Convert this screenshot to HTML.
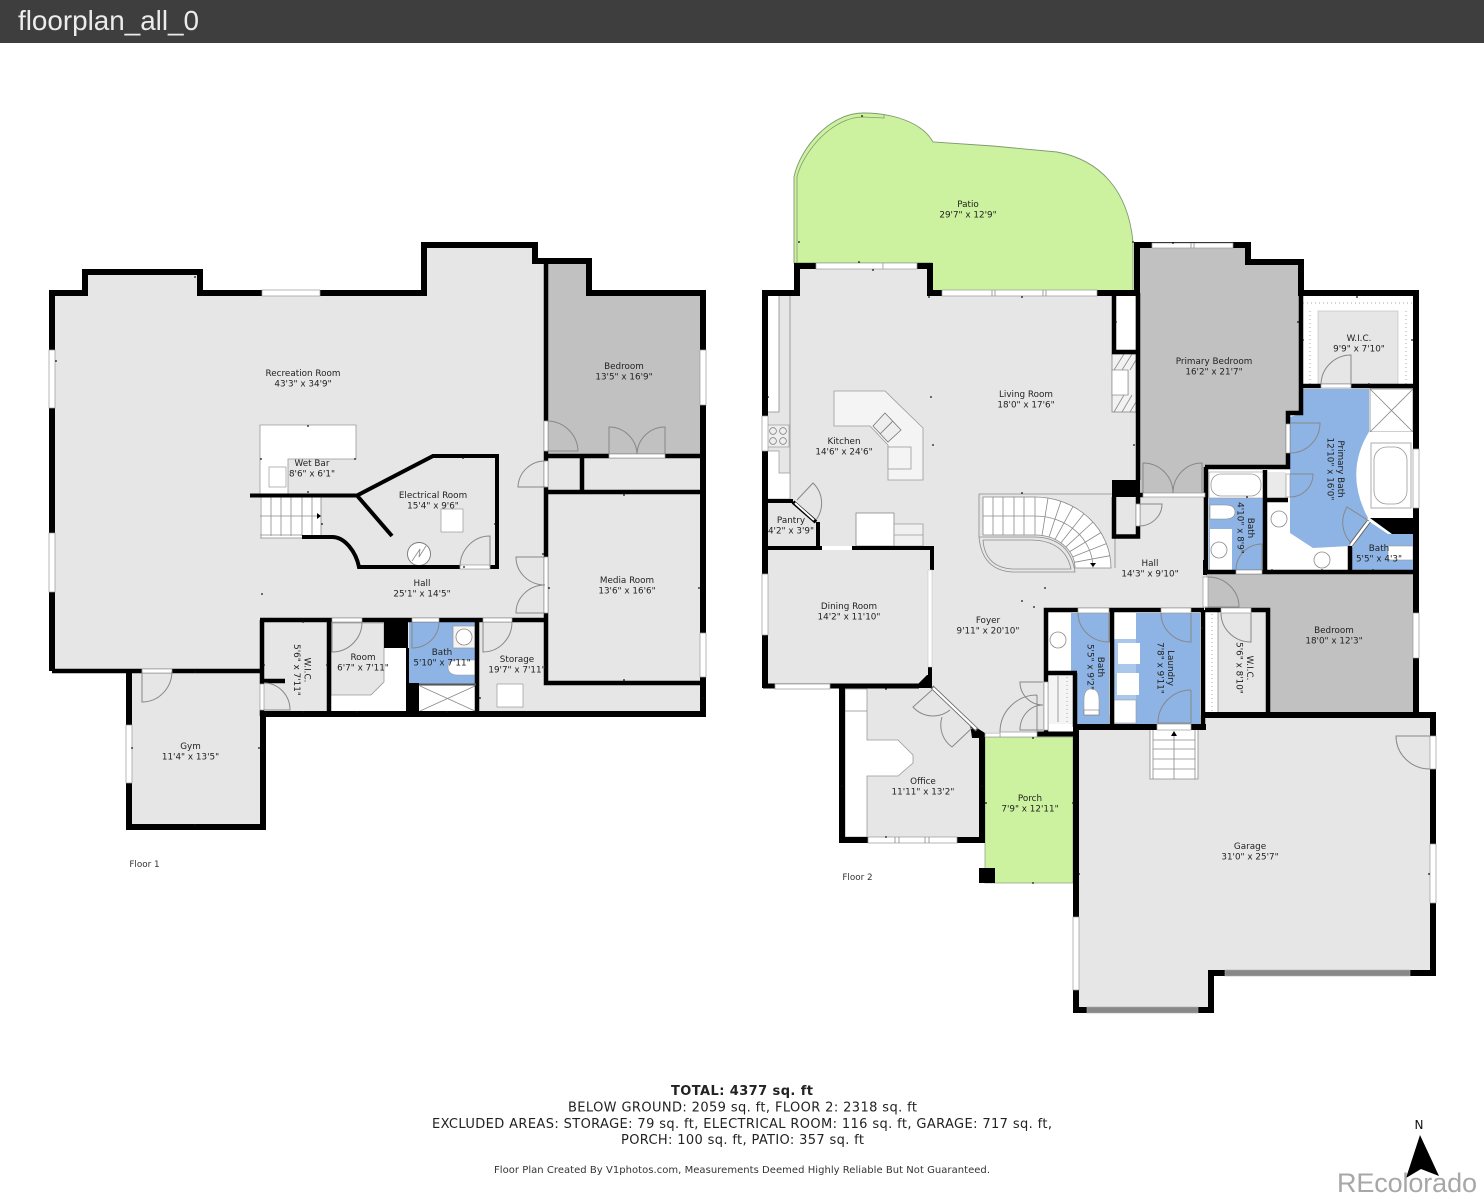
<!DOCTYPE html>
<html lang="en"><head><meta charset="utf-8"><title>floorplan_all_0</title>
<style>
html,body{margin:0;padding:0;background:#fff}
svg{display:block}
.wl{fill:none;stroke:#000;stroke-linejoin:miter}
.d{fill:none;stroke:#888;stroke-width:1}
.o{fill:#fff;stroke:#999;stroke-width:.7}
.l{fill:none;stroke:#8a8a8a;stroke-width:.8}
.sh{fill:none;stroke:#aaa;stroke-width:1;stroke-dasharray:1 3}
.t{font-family:"DejaVu Sans","Liberation Sans",sans-serif;font-size:8.8px;fill:#222;text-anchor:middle}
.b{font-family:"DejaVu Sans","Liberation Sans",sans-serif;font-size:13px;fill:#222;text-anchor:middle}
</style></head><body>
<svg width="1484" height="1200" viewBox="0 0 1484 1200" xmlns="http://www.w3.org/2000/svg">
<rect width="1484" height="1200" fill="#fff"/>
<rect width="1484" height="43" fill="#3e3e3e"/>
<text x="18" y="30" font-family="Liberation Sans,sans-serif" font-size="28" fill="#ececec" textLength="181" lengthAdjust="spacingAndGlyphs">floorplan_all_0</text>

<!-- FLOOR 1 fills -->
<path d="M52 293H85V272H200V293H424V245H535V261H589V293H703V714H263V827H129V671H52Z" fill="#e6e6e6"/>
<path d="M546 261H589V293H703V456H546Z" fill="#c1c1c1"/>
<path d="M331 648H407V712H331Z" fill="#fff"/>
<path d="M331 623H384V682L371 695H331Z" fill="#e6e6e6" stroke="#999" stroke-width=".8"/>
<rect x="409" y="622" width="67" height="62" fill="#8db4e4"/>
<rect x="419" y="686" width="57" height="26" fill="#fff"/>
<path d="M420 686L475 711M475 686L420 711" class="l"/>
<rect x="453" y="626" width="22" height="22" fill="#f4f4f4" stroke="#999" stroke-width=".7"/>
<circle cx="464" cy="637" r="8" fill="#fff" stroke="#888" stroke-width=".8"/>
<path d="M475 660H458Q448 660 448 667Q448 675 458 675H475Z" fill="#fff" stroke="#999" stroke-width=".6"/>
<path d="M260 425H356V459H288V495H260Z" fill="#fff" stroke="#999" stroke-width=".8"/>
<rect x="269" y="467" width="17" height="20" fill="#fff" stroke="#999" stroke-width=".7"/>
<rect x="260" y="497" width="61" height="41" fill="#fff"/>
<path d="M261 497V538M271 497V536M281 497V536M291 497V536M302 497V536M312 497V536M321 497V536M260 516H318M260 535H302M260 538H302" class="l"/>
<path d="M317 513L321 516L317 519Z" fill="#000"/>
<rect x="441" y="509" width="22" height="23" fill="#fff" stroke="#999" stroke-width=".7"/>
<circle cx="419" cy="554" r="11.5" fill="#fff" stroke="#777" stroke-width=".9"/>
<path d="M412 561L420 549L419 557L426 546" class="l"/>
<rect x="497" y="684" width="26" height="23" fill="#fff" stroke="#999" stroke-width=".7"/>

<!-- FLOOR 1 walls -->
<path class="wl" stroke-width="6" d="M52 671V293H85V272H200V293H424V245H535V261H589V293H703V714H263V827H129V671"/>
<path class="wl" stroke-width="4.5" d="M52 671H262M546 261V683H703M546 456H703M546 492H703M582 456V492M260 620H546M329 620V714M477 620V714M262 620V684M262 710V716M264 681H285"/>
<path class="wl" stroke-width="4" d="M250 495.5H357L433 456H497V567H359C356 552 345 537 332 537H302M357 495.5L392 536"/>
<path class="wl" stroke-width="3" d="M407.5 648V684"/>
<path d="M409 684.5H476" stroke="#555" stroke-width="2" fill="none"/>
<rect x="384" y="620" width="24" height="28" fill="#000"/>
<rect x="406" y="683" width="13" height="30" fill="#000"/>

<!-- FLOOR 1 windows/openings -->
<rect class="o" x="262" y="290" width="58" height="6"/>
<rect class="o" x="49" y="350" width="6" height="58"/>
<rect class="o" x="49" y="533" width="6" height="59"/>
<rect class="o" x="700" y="350" width="6" height="55"/>
<rect class="o" x="700" y="633" width="6" height="44"/>
<rect class="o" x="126" y="725" width="6" height="58"/>
<rect class="o" x="609" y="454" width="56" height="4"/>
<rect class="o" x="544" y="421" width="4" height="30"/>
<rect class="o" x="544" y="461" width="4" height="26"/>
<rect class="o" x="544" y="557" width="4" height="56"/>
<rect class="o" x="460" y="565" width="30" height="4"/>
<rect class="o" x="332" y="618" width="30" height="4"/>
<rect class="o" x="412" y="618" width="27" height="4"/>
<rect class="o" x="483" y="618" width="29" height="4"/>
<rect class="o" x="142" y="669" width="30" height="4"/>
<rect class="o" x="260" y="684" width="4" height="26"/>

<!-- FLOOR 1 doors -->
<path class="d" d="M547 451H578A31 31 0 0 0 547 421M609 454V427A28 28 0 0 1 637 454M665 454V427A28 28 0 0 0 637 454M546 487H518A27 27 0 0 1 546 461M545 557H516A29 28 0 0 0 545 585M545 613H516A29 28 0 0 1 545 585M490 567V536A30 31 0 0 0 460 567M412 622V648A27 26 0 0 0 439 622M332 622V652A30 30 0 0 0 362 622M483 622V652A29 30 0 0 0 512 622M264 710H290A26 27 0 0 0 264 683M142 671V702A30 31 0 0 0 172 671"/>

<!-- FLOOR 2 fills -->
<path d="M794 263V177C800 148 830 113 863 113C892 113 922 122 933 142L993 146L1057 152C1100 160 1128 190 1133 242V293H932V263Z" fill="#cdf29f" stroke="#7f9a70" stroke-width=".9"/>
<path d="M797 263V177C803 152 832 117 863 117L884 118V115" fill="none" stroke="#7f9a70" stroke-width=".8"/>
<rect x="985" y="737" width="88" height="146" fill="#cdf29f" stroke="#8a9a80" stroke-width=".7"/>
<rect x="979" y="868" width="16" height="15" fill="#000"/>
<path d="M765 293H797V266H930V293H1136V497H1206V610H1046V732H982V840H842V686H765Z" fill="#e6e6e6"/>
<rect x="1116" y="296" width="19" height="55" fill="#fff"/>
<path d="M1139 247H1247V264H1299V412H1286V467H1206V494H1139Z" fill="#c1c1c1"/>
<path d="M1076 715H1433V973H1211V1010H1076Z" fill="#e6e6e6"/>
<path d="M1206 574H1416V715H1268V609H1206Z" fill="#c1c1c1"/>
<rect x="1206" y="612" width="61" height="102" fill="#e6e6e6"/>
<rect x="1206" y="612" width="12" height="102" fill="#fff"/>
<path d="M1212 614V712" class="sh"/><path d="M1218 612V714" class="l"/>

<!-- kitchen -->
<rect x="767" y="296" width="12" height="116" fill="#fff"/>
<path d="M779 296V412H767M790 296V499" class="l"/>
<rect x="767" y="425" width="22" height="22" fill="#eee" stroke="#999" stroke-width=".7"/>
<g fill="none" stroke="#777" stroke-width=".7"><circle cx="773" cy="431" r="3.4"/><circle cx="783" cy="431" r="3.4"/><circle cx="773" cy="441" r="3.4"/><circle cx="783" cy="441" r="3.4"/></g>
<path d="M767 451H779V473H790V499H767Z" fill="#fff" stroke="#999" stroke-width=".7"/>
<path d="M834 391H885L923 428V480H888V445L870 426H834Z" fill="#f4f4f4" stroke="#999" stroke-width=".8"/>
<path d="M885 413L901 430L888 442L873 426ZM893 421L880 434" fill="#eee" stroke="#777" stroke-width=".8"/>
<rect x="888" y="447" width="23" height="22" fill="#f4f4f4" stroke="#999" stroke-width=".8"/>
<rect x="856" y="513" width="38" height="33" fill="#fff" stroke="#888" stroke-width=".8"/>
<path d="M894 524H923V546H894ZM894 535H923" fill="#f0f0f0" stroke="#999" stroke-width=".8"/>

<!-- fireplace -->
<rect x="1112" y="354" width="24" height="58" fill="#f2f2f2" stroke="#777" stroke-width=".7"/>
<path class="l" d="M1114 370L1124 354M1122 370L1132 354M1130 370L1136 360M1114 412L1124 395M1122 412L1132 395M1130 412L1136 402M1128 370V395"/>
<rect x="1112" y="370" width="16" height="25" fill="#fff" stroke="#888" stroke-width=".7"/>

<!-- curved stairs -->
<path d="M979 494H1112M979 494V537M1115 537V568" class="l"/>
<path d="M983 497H1035A76 71 0 0 1 1111 568H1075A40 33 0 0 0 1035 535H983Z" fill="#fff" stroke="#888" stroke-width=".8"/>
<path class="l" d="M993 497V535M1003 497V535M1014 497V535M1024 497V535M1035 497V535M983 516H1035A58 52 0 0 1 1093 568M1048 498L1042 535.5M1061 501L1049 537M1073 506.5L1055 539.4M1084 513.6L1061 542.7M1093 522L1066 546.8M1101 532.5L1070 551.5M1106 543.7L1073 556.7M1110 555.7L1074.4 562.3"/>
<path d="M1090 563H1096L1093 567Z" fill="#000"/>
<path class="l" d="M979 537H1035Q1070 538 1075 572H1012Q982 570 979 537M983 540H1032Q1065 541 1071 569H1012Q985 567 983 540"/>

<!-- primary suite -->
<rect x="1303" y="296" width="111" height="88" fill="#fff"/>
<rect x="1318" y="311" width="80" height="73" fill="#e6e6e6" stroke="#bbb" stroke-width=".6"/>
<path class="sh" d="M1303 303H1413M1310 311V384M1406 311V384"/>
<path d="M1268 503H1350V570H1268Z" fill="#fff"/>
<path d="M1303 389H1369V432Q1344 473 1368 518L1350 546L1313 548L1290 533V417L1303 413Z" fill="#8db4e4"/>
<rect x="1370" y="389" width="43" height="43" fill="#fff" stroke="#888" stroke-width=".8"/>
<path class="l" d="M1370 389L1413 432M1413 389L1370 432"/>
<path d="M1369 432H1413V518H1369Q1344 473 1369 432Z" fill="#fff"/>
<rect x="1371" y="443" width="40" height="65" fill="#fff" stroke="#999" stroke-width=".8"/>
<rect x="1374" y="447" width="33" height="57" rx="13" fill="#fff" stroke="#999" stroke-width=".8"/>
<path d="M1370 518H1416V534H1392Z" fill="#000"/>
<path d="M1352 548L1370 522L1388 534H1413V570H1352Z" fill="#8db4e4"/>
<rect x="1388" y="546" width="25" height="14" fill="#fff" stroke="#999" stroke-width=".6"/>
<rect x="1268" y="472" width="18" height="27" fill="#eaeaea"/>
<circle cx="1279" cy="519" r="8" fill="#fff" stroke="#888" stroke-width=".8"/>
<circle cx="1322" cy="560" r="8" fill="#fff" stroke="#888" stroke-width=".8"/>
<rect x="1209" y="472" width="55" height="98" fill="#8db4e4"/>
<rect x="1209" y="472" width="55" height="26" fill="#fff" stroke="#999" stroke-width=".6"/>
<rect x="1211" y="474" width="50" height="22" rx="10" fill="#fff" stroke="#999" stroke-width=".8"/>
<path d="M1210 505H1225Q1235 505 1235 512Q1235 519 1225 519H1210Z" fill="#fff" stroke="#888" stroke-width=".6"/>
<rect x="1210" y="529" width="22" height="41" fill="#fff"/>
<circle cx="1219" cy="550" r="8" fill="#fff" stroke="#888" stroke-width=".8"/>

<!-- bath + laundry -->
<path d="M1049 613H1109V724H1077V671H1049Z" fill="#fff"/>
<path d="M1071 613H1109V724H1077V671H1071Z" fill="#8db4e4"/>
<circle cx="1058" cy="640" r="8" fill="#fff" stroke="#888" stroke-width=".8"/>
<path d="M1084 700Q1084 689 1091 689Q1099 689 1099 700V715H1084Z" fill="#fff" stroke="#999" stroke-width=".6"/>
<rect x="1084" y="710" width="15" height="5" fill="#fff" stroke="#777" stroke-width=".6"/>
<rect x="1049" y="675" width="25" height="49" fill="#f4f4f4"/>
<path class="sh" d="M1067 677V722"/><path class="l" d="M1058 676V722"/>
<rect x="1114" y="613" width="86" height="111" fill="#8db4e4"/>
<rect x="1114" y="613" width="22" height="111" fill="#a9c8ec"/>
<rect x="1114" y="613" width="22" height="26" fill="#fff"/>
<rect x="1118" y="643" width="22" height="21" fill="#fff"/>
<rect x="1117" y="673" width="22" height="22" fill="#fff"/>
<rect x="1114" y="700" width="22" height="23" fill="#fff" stroke="#999" stroke-width=".6"/>

<!-- office counter -->
<path d="M845 689H867V740H898L913 755V763L898 776H867V837H845Z" fill="#fff" stroke="#999" stroke-width=".8"/>
<path d="M845 711H867" class="l"/>

<!-- garage stairs -->
<rect x="1150" y="730" width="48" height="49" fill="#fff"/>
<path class="l" d="M1150 730V779H1198V730M1153 730V779M1195 730V779M1174 736V779M1153 740H1195M1153 749H1195M1153 759H1195M1153 769H1195"/>
<path d="M1171 736L1174 731L1177 736Z" fill="#000"/>

<!-- FLOOR 2 walls -->
<path class="wl" stroke-width="6" d="M765 688V293H797V266H930V293H1137V245H1248V262H1301V293H1416V718"/>
<path class="wl" stroke-width="6" d="M842 686V840H982V733"/>
<path class="wl" stroke-width="5" d="M763 686H919M1037 734H1078"/>
<path class="wl" stroke-width="6" d="M1204 715H1433V973H1211V1010H1076V727H1157M1191 727H1206"/>
<path class="wl" stroke-width="4.5" d="M1075 673V727M1046 734V610H1204M1203 610V730M1205 610H1268V715M1112 610V727M1046 673H1077M1205 467H1288V413H1301V293M1265 470V572M1206 467V574M1206 572H1416M1265 500H1288M1350 546V572M1301 386H1416M1114 293V352H1136M1138 293V480M1114 497V536.5H1138V497M1137 495H1144"/>
<path class="wl" stroke-width="4" d="M1288 467V413M765 501H793M818 522V548M765 548H822M852 548H932V570M930 667V688"/>
<path d="M1112 480H1140V497H1112ZM918 684L927 675H932V688H918ZM970 724L977 728L985 733V738H972Z" fill="#000"/>
<path d="M1205 560V575" stroke="#000" stroke-width="4"/>

<!-- FLOOR 2 windows/openings -->
<rect class="o" x="816" y="263" width="67" height="6"/>
<rect class="o" x="883" y="263" width="34" height="6"/>
<rect class="o" x="942" y="290" width="155" height="6"/>
<path class="l" d="M992 290V296M995 290V296M1043 290V296M1046 290V296"/>
<rect class="o" x="1152" y="243" width="81" height="5"/>
<path class="l" d="M1191 243V248M1194 243V248"/>
<rect class="o" x="762" y="416" width="6" height="35"/>
<rect class="o" x="762" y="574" width="6" height="61"/>
<rect class="o" x="775" y="684" width="55" height="5"/>
<rect class="o" x="868" y="837" width="89" height="6"/>
<path class="l" d="M895 837V843M899 837V843M925 837V843M929 837V843"/>
<rect class="o" x="1413" y="449" width="6" height="59"/>
<rect class="o" x="1413" y="613" width="6" height="45"/>
<rect class="o" x="1430" y="736" width="6" height="33"/>
<rect class="o" x="1430" y="844" width="6" height="59"/>
<rect class="o" x="1073" y="917" width="6" height="73"/>
<rect x="1087" y="1007" width="111" height="6" fill="#888" stroke="#aaa" stroke-width=".6"/>
<rect x="1225" y="970" width="185" height="6" fill="#888" stroke="#aaa" stroke-width=".6"/>
<rect x="822" y="546" width="30" height="4" fill="#fff"/>
<rect x="928" y="570" width="4" height="97" fill="#fff" stroke="#bbb" stroke-width=".5"/>
<rect class="o" x="1000" y="732" width="37" height="5"/>
<rect class="o" x="985" y="733" width="15" height="4"/>
<rect class="o" x="1157" y="724" width="34" height="6"/>
<rect class="o" x="1044" y="682" width="4" height="48"/>
<rect class="o" x="1078" y="608" width="31" height="5"/>
<rect class="o" x="1161" y="608" width="30" height="5"/>
<rect class="o" x="1221" y="608" width="30" height="5"/>
<rect class="o" x="1203" y="577" width="5" height="30"/>
<rect class="o" x="1143" y="493" width="62" height="4"/>
<rect class="o" x="1136" y="504" width="4" height="22"/>
<rect class="o" x="1321" y="384" width="30" height="4"/>
<rect class="o" x="1286" y="424" width="4" height="29"/>
<rect class="o" x="1286" y="474" width="4" height="23"/>
<rect class="o" x="1236" y="570" width="26" height="4"/>
<path d="M793 502L816 522" stroke="#000" stroke-width="4" fill="none"/><path d="M795 503L814 520" stroke="#fff" stroke-width="2" fill="none"/>
<path d="M932 687L977 730" stroke="#666" stroke-width="4" fill="none"/><path d="M933 688L976 729" stroke="#fff" stroke-width="2.4" fill="none"/>
<path d="M1351 545L1369 521" stroke="#666" stroke-width="4.5" fill="none"/><path d="M1351 545L1369 521" stroke="#fff" stroke-width="2.6" fill="none"/>

<!-- FLOOR 2 doors -->
<path class="d" d="M797 500L813 483A28 28 0 0 1 816 520M932 690L913 707A27 27 0 0 0 950 710M972 728L952 747A27 27 0 0 1 942 717M1037 695V732M1037 695A37 37 0 0 0 1000 732M1043 682H1020A23 23 0 0 0 1043 705M1043 730H1020A23 25 0 0 1 1043 705M1109 613V642A31 29 0 0 1 1078 613M1191 613V642A30 29 0 0 1 1161 613M1191 690V723H1158A33 33 0 0 1 1191 690M1251 613V642A30 29 0 0 1 1221 613M1208 607H1239A31 30 0 0 0 1208 577M1143 493V463A30 30 0 0 1 1173 493M1202 493V463A29 30 0 0 0 1173 493M1139 504H1162A23 22 0 0 1 1139 526M1351 385V355A30 30 0 0 0 1321 385M1290 423H1320A30 30 0 0 1 1290 453M1290 474H1313A23 23 0 0 1 1290 497M1262 570V544A26 26 0 0 0 1236 570M1369 521L1347 507A30 30 0 0 0 1350 542M1430 736H1396A34 33 0 0 0 1430 769"/>

<!-- measurement dots -->
<path fill="none" stroke="#111" stroke-width="1.8" stroke-linecap="round" d="M56 361h.01M195 277h.01M308 426h.01M261 459h.01M355 459h.01M308 492h.01M322 524h.01M262 594h.01M463 458h.01M495 524h.01M464 567h.01M543 554h.01M549 588h.01M699 588h.01M624 495h.01M624 680h.01M303 622h.01M264 665h.01M327 665h.01M303 712h.01M357 712h.01M447 712h.01M480 698h.01M703 698h.01M195 672h.01M195 825h.01M259 748h.01M132 748h.01M862 116h.01M859 262h.01M799 242h.01M1133 242h.01M873 270h.01M929 297h.01M1022 297h.01M1116 322h.01M768 397h.01M931 397h.01M933 445h.01M1134 445h.01M1022 493h.01M1045 588h.01M1173 243h.01M1298 322h.01M1357 297h.01M1369 384h.01M1303 340h.01M1412 340h.01M1202 628h.01M1247 497h.01M1272 570h.01M1322 570h.01M1373 570h.01M1022 601h.01M1034 607h.01M886 689h.01M982 786h.01M842 786h.01M886 837h.01M1033 738h.01M986 803h.01M1073 803h.01M1033 883h.01M1079 874h.01M1429 874h.01"/>

<!-- FLOOR 1 labels -->
<text class="t" x="303" y="376">Recreation Room<tspan x="303" dy="10.3">43'3" x 34'9"</tspan></text>
<text class="t" x="624" y="369">Bedroom<tspan x="624" dy="10.3">13'5" x 16'9"</tspan></text>
<text class="t" x="312" y="466">Wet Bar<tspan x="312" dy="10.3">8'6" x 6'1"</tspan></text>
<text class="t" x="433" y="498">Electrical Room<tspan x="433" dy="10.3">15'4" x 9'6"</tspan></text>
<text class="t" x="422" y="586">Hall<tspan x="422" dy="10.3">25'1" x 14'5"</tspan></text>
<text class="t" x="627" y="583">Media Room<tspan x="627" dy="10.3">13'6" x 16'6"</tspan></text>
<text class="t" x="363" y="660">Room<tspan x="363" dy="10.3">6'7" x 7'11"</tspan></text>
<text class="t" x="442" y="655">Bath<tspan x="442" dy="10.3">5'10" x 7'11"</tspan></text>
<text class="t" x="517" y="662">Storage<tspan x="517" dy="10.3">19'7" x 7'11"</tspan></text>
<text class="t" x="190.5" y="749">Gym<tspan x="190.5" dy="10.3">11'4" x 13'5"</tspan></text>
<g transform="translate(300,670) rotate(90)"><text class="t" y="-4.5">W.I.C.<tspan x="0" dy="10.3">5'6" x 7'11"</tspan></text></g>
<text x="144.5" y="867" font-family="DejaVu Sans,sans-serif" font-size="8.8" fill="#333" text-anchor="middle">Floor 1</text>

<!-- FLOOR 2 labels -->
<text class="t" x="968" y="207">Patio<tspan x="968" dy="10.3">29'7" x 12'9"</tspan></text>
<text class="t" x="844" y="444">Kitchen<tspan x="844" dy="10.3">14'6" x 24'6"</tspan></text>
<text class="t" x="1026" y="397">Living Room<tspan x="1026" dy="10.3">18'0" x 17'6"</tspan></text>
<text class="t" x="1214" y="364">Primary Bedroom<tspan x="1214" dy="10.3">16'2" x 21'7"</tspan></text>
<text class="t" x="1359" y="341">W.I.C.<tspan x="1359" dy="10.3">9'9" x 7'10"</tspan></text>
<g transform="translate(1333,469) rotate(90)"><text class="t" y="-5">Primary Bath<tspan x="0" dy="10.3">12'10" x 16'0"</tspan></text></g>
<g transform="translate(1243,528) rotate(90)"><text class="t" y="-5">Bath<tspan x="0" dy="10.3">4'10" x 8'9"</tspan></text></g>
<text class="t" x="1379" y="551">Bath<tspan x="1379" dy="10.3">5'5" x 4'3"</tspan></text>
<text class="t" x="1150" y="566">Hall<tspan x="1150" dy="10.3">14'3" x 9'10"</tspan></text>
<text class="t" x="791" y="523">Pantry<tspan x="791" dy="10.3">4'2" x 3'9"</tspan></text>
<text class="t" x="849" y="609">Dining Room<tspan x="849" dy="10.3">14'2" x 11'10"</tspan></text>
<text class="t" x="988" y="623">Foyer<tspan x="988" dy="10.3">9'11" x 20'10"</tspan></text>
<g transform="translate(1093,667) rotate(90)"><text class="t" y="-5">Bath<tspan x="0" dy="10.3">5'5" x 9'2"</tspan></text></g>
<g transform="translate(1163,668) rotate(90)"><text class="t" y="-5">Laundry<tspan x="0" dy="10.3">7'8" x 9'11"</tspan></text></g>
<g transform="translate(1242,668) rotate(90)"><text class="t" y="-5">W.I.C.<tspan x="0" dy="10.3">5'6" x 8'10"</tspan></text></g>
<text class="t" x="1334" y="633">Bedroom<tspan x="1334" dy="10.3">18'0" x 12'3"</tspan></text>
<text class="t" x="923" y="784">Office<tspan x="923" dy="10.3">11'11" x 13'2"</tspan></text>
<text class="t" x="1030" y="801">Porch<tspan x="1030" dy="10.3">7'9" x 12'11"</tspan></text>
<text class="t" x="1250" y="849">Garage<tspan x="1250" dy="10.3">31'0" x 25'7"</tspan></text>
<text x="857.5" y="880" font-family="DejaVu Sans,sans-serif" font-size="8.8" fill="#333" text-anchor="middle">Floor 2</text>

<!-- Footer -->
<text class="b" x="742" y="1095" font-weight="bold" textLength="142">TOTAL: 4377 sq. ft</text>
<text class="b" x="742.5" y="1111.5" textLength="349">BELOW GROUND: 2059 sq. ft, FLOOR 2: 2318 sq. ft</text>
<text class="b" x="742" y="1128" textLength="620">EXCLUDED AREAS: STORAGE: 79 sq. ft, ELECTRICAL ROOM: 116 sq. ft, GARAGE: 717 sq. ft,</text>
<text class="b" x="742.5" y="1144" textLength="243">PORCH: 100 sq. ft, PATIO: 357 sq. ft</text>
<text x="742" y="1173" font-family="DejaVu Sans,sans-serif" font-size="10" fill="#333" text-anchor="middle" textLength="496">Floor Plan Created By V1photos.com, Measurements Deemed Highly Reliable But Not Guaranteed.</text>

<!-- North arrow + watermark -->
<text x="1419" y="1129" font-family="DejaVu Sans,sans-serif" font-size="12" fill="#111" text-anchor="middle">N</text>
<path d="M1420 1135L1406 1178L1421 1169L1439 1176Z" fill="#000"/>
<text x="1337" y="1192" font-family="Liberation Sans,sans-serif" font-size="27" fill="#a0a0a0" fill-opacity=".92" textLength="140">REcolorado</text>
</svg>
</body></html>
